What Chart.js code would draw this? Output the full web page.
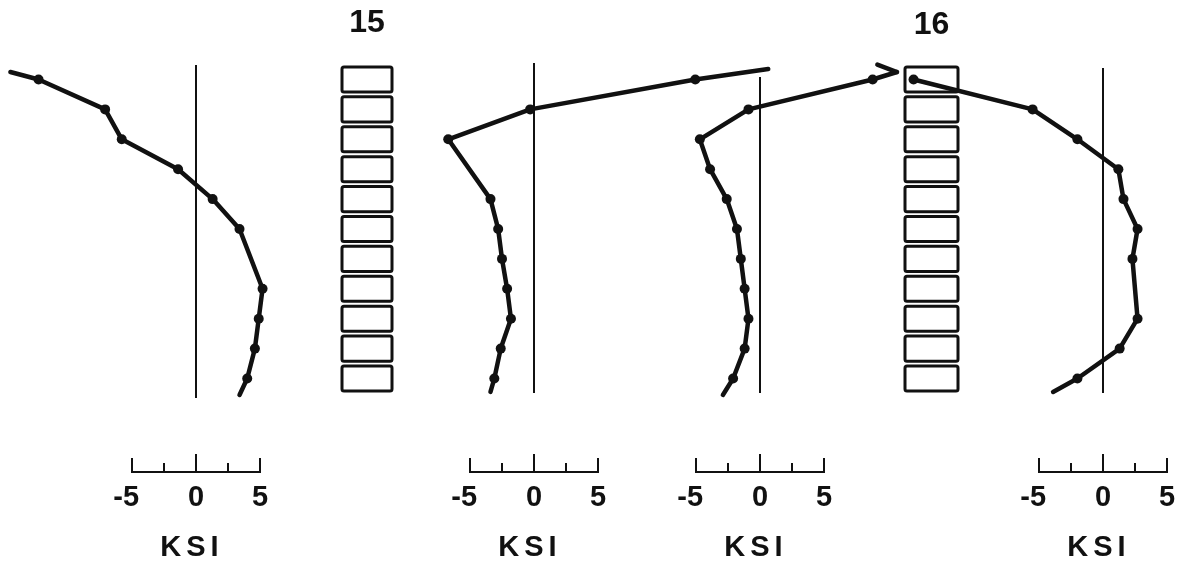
<!DOCTYPE html>
<html>
<head>
<meta charset="utf-8">
<script src="https://cdn.jsdelivr.net/npm/chart.js@4.4.1/dist/chart.umd.min.js"></script>
<style>
  html, body { margin: 0; padding: 0; background: #fff; }
  #wrap { width: 1182px; height: 572px; }
</style>
</head>
<body>
<div id="wrap"><canvas id="c" width="1182" height="572"></canvas></div>
<script>
// courses (blocks) of the two columns
const courses = [1, 2, 3, 4, 5, 6, 7, 8, 9, 10, 11]
const columnLabels = ['15', '16']
const scaleTicks = [-5, -2.5, 0, 2.5, 5]
const scaleLabels = [-5, 0, 5]
const unitLabel = 'KSI'

// stress profiles: whole numbers are block centres (marked), fractions are line ends
const p1Course = [0.75, 1, 2, 3, 4, 5, 6, 8, 9, 10, 11, 11.55]
const p1Ksi    = [-14.5, -12.3, -7.1, -5.8, -1.4, 1.3, 3.4, 5.2, 4.9, 4.6, 4.0, 3.4]

const p2Course = [0.65, 1, 2, 3, 5, 6, 7, 8, 9, 10, 11, 11.45]
const p2Ksi    = [18.3, 12.6, -0.3, -6.7, -3.4, -2.8, -2.5, -2.1, -1.8, -2.6, -3.1, -3.4]

const p3Course = [0.75, 1, 2, 3, 4, 5, 6, 7, 8, 9, 10, 11, 11.55]
const p3Ksi    = [10.7, 8.8, -0.9, -4.7, -3.9, -2.6, -1.8, -1.5, -1.2, -0.9, -1.2, -2.1, -2.9]

const p4Course = [1, 2, 3, 4, 5, 6, 7, 9, 10, 11, 11.45]
const p4Ksi    = [-14.8, -5.5, -2.0, 1.2, 1.6, 2.7, 2.3, 2.7, 1.3, -2.0, -3.9]

// layout (pixels)
const W = 1182
const pxPerKsi = 12.8
const panels = [
  { id: 'x1', zero: 196, top: 65, bottom: 398 },
  { id: 'x2', zero: 534, top: 63, bottom: 393 },
  { id: 'x3', zero: 760, top: 77, bottom: 393 },
  { id: 'x4', zero: 1103, top: 68, bottom: 393 }
]
const columns = [
  { left: 342, right: 392, labelY: 23 },
  { left: 905, right: 958, labelY: 25 }
]
const ink = '#111'

const mk = (course, ksi, axis) => ({
  data: course.map((c, i) => ({ x: ksi[i], y: c })),
  xAxisID: axis,
  yAxisID: 'y',
  showLine: true,
  borderColor: ink,
  backgroundColor: ink,
  borderWidth: 4.5,
  borderCapStyle: 'round',
  borderJoinStyle: 'round',
  tension: 0,
  clip: false,
  pointRadius: ctx => (ctx.raw && Number.isInteger(ctx.raw.y) ? 5 : 0),
  pointHoverRadius: 0,
  pointBorderWidth: 0
})

const scales = {
  y: { type: 'linear', display: false, min: 0, max: 12, reverse: true }
}
panels.forEach(p => {
  scales[p.id] = {
    type: 'linear', axis: 'x', display: false,
    min: -p.zero / pxPerKsi, max: (W - p.zero) / pxPerKsi
  }
})

const drawing = {
  id: 'drawing',
  beforeDatasetsDraw(chart) {
    const ctx = chart.ctx
    const y = chart.scales.y
    ctx.save()
    // zero lines
    ctx.strokeStyle = ink
    ctx.lineWidth = 2
    panels.forEach(p => {
      const x = chart.scales[p.id].getPixelForValue(0)
      ctx.beginPath()
      ctx.moveTo(x, p.top)
      ctx.lineTo(x, p.bottom)
      ctx.stroke()
    })
    // block columns
    ctx.lineWidth = 3
    columns.forEach((col, k) => {
      courses.forEach(c => {
        const t = y.getPixelForValue(c - 0.42)
        const b = y.getPixelForValue(c + 0.42)
        ctx.beginPath()
        ctx.roundRect(col.left, t, col.right - col.left, b - t, 2)
        ctx.fillStyle = '#fff'
        ctx.fill()
        ctx.stroke()
      })
      ctx.fillStyle = ink
      ctx.font = 'bold 32px "Liberation Sans", Arial, sans-serif'
      ctx.textAlign = 'center'
      ctx.textBaseline = 'middle'
      ctx.fillText(columnLabels[k], (col.left + col.right) / 2, col.labelY)
    })
    ctx.restore()
  },
  afterDatasetsDraw(chart) {
    const ctx = chart.ctx
    ctx.save()
    // arrow head on profile 3
    const pts = chart.getDatasetMeta(2).data
    const tip = pts[0], prev = pts[1]
    const back = Math.atan2(prev.y - tip.y, prev.x - tip.x)
    const a = back + 38 * Math.PI / 180
    ctx.strokeStyle = ink
    ctx.lineWidth = 4.5
    ctx.lineCap = 'round'
    ctx.beginPath()
    ctx.moveTo(tip.x, tip.y)
    ctx.lineTo(tip.x + 21 * Math.cos(a), tip.y + 21 * Math.sin(a))
    ctx.stroke()

    // scale bars
    const base = 472
    ctx.lineWidth = 2
    ctx.lineCap = 'butt'
    ctx.fillStyle = ink
    panels.forEach(p => {
      const s = chart.scales[p.id]
      ctx.beginPath()
      ctx.moveTo(s.getPixelForValue(-5), base)
      ctx.lineTo(s.getPixelForValue(5), base)
      scaleTicks.forEach(v => {
        const h = v === 0 ? 18 : (Math.abs(v) === 5 ? 14 : 9)
        const x = s.getPixelForValue(v)
        ctx.moveTo(x, base + 1)
        ctx.lineTo(x, base - h)
      })
      ctx.stroke()

      ctx.font = 'bold 29px "Liberation Sans", Arial, sans-serif'
      ctx.textBaseline = 'middle'
      ctx.textAlign = 'left'
      scaleLabels.forEach(v => {
        const x = s.getPixelForValue(v)
        const digits = String(Math.abs(v))
        const dw = ctx.measureText(digits).width
        const text = v < 0 ? '-' + digits : digits
        const lead = v < 0 ? ctx.measureText('-').width + 1 : 0
        ctx.fillText(text, x - dw / 2 - lead, 498)
      })
      ctx.textAlign = 'center'
      ctx.letterSpacing = '5px'
      ctx.fillText(unitLabel, s.getPixelForValue(0) - 4, 548)
      ctx.letterSpacing = '0px'
    })
    ctx.restore()
  }
}

new Chart(document.getElementById('c'), {
  type: 'scatter',
  data: {
    datasets: [
      mk(p1Course, p1Ksi, 'x1'),
      mk(p2Course, p2Ksi, 'x2'),
      mk(p3Course, p3Ksi, 'x3'),
      mk(p4Course, p4Ksi, 'x4')
    ]
  },
  options: {
    responsive: false,
    animation: false,
    events: [],
    layout: { autoPadding: false, padding: { top: 49.6, bottom: 163.6, left: 0, right: 0 } },
    scales: scales,
    plugins: { legend: { display: false }, tooltip: { enabled: false } }
  },
  plugins: [drawing]
})
</script>
</body>
</html>
